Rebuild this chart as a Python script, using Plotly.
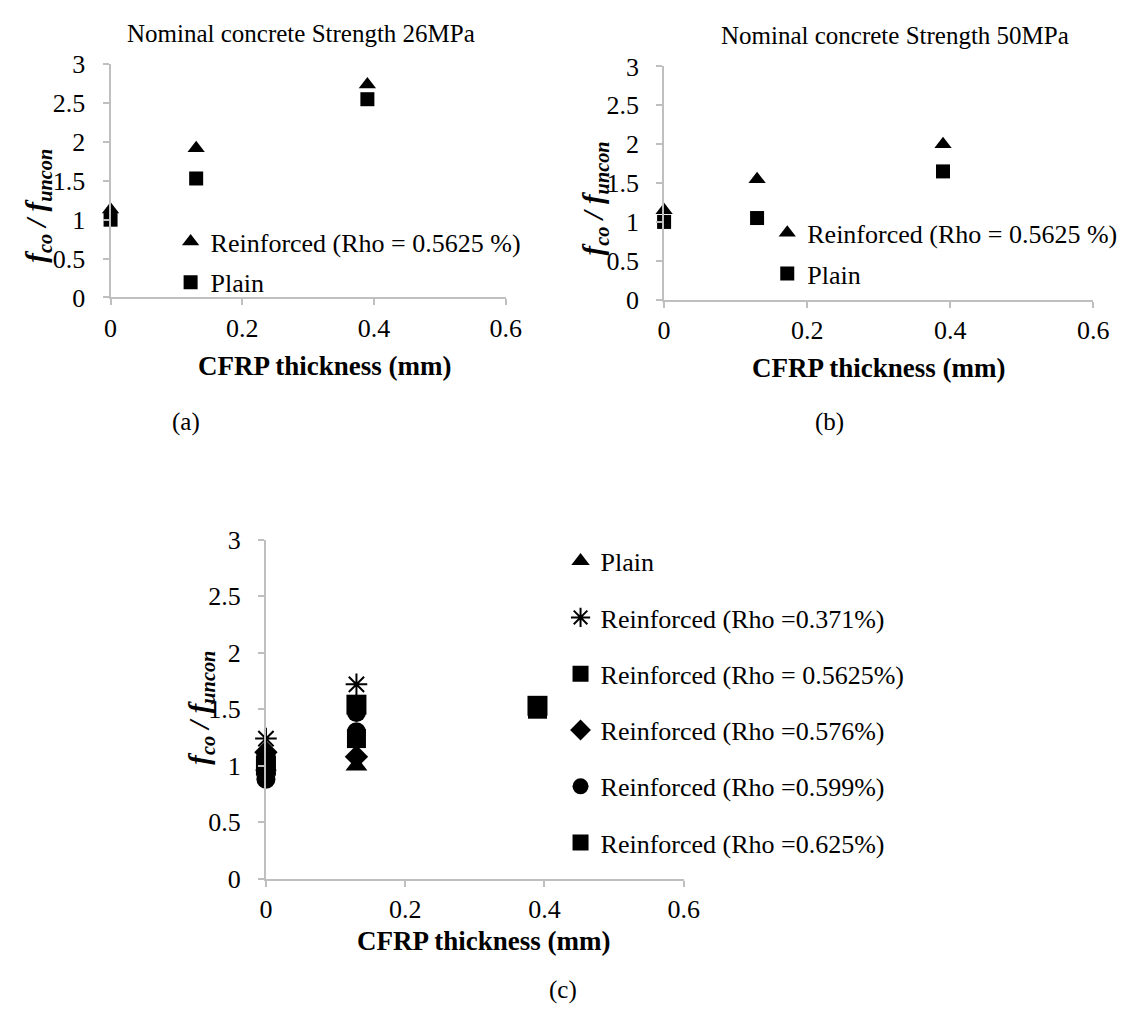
import plotly.graph_objects as go

W, H = 1134, 1022
FONT = "Liberation Serif"

# ---- data ----
thickness = [0, 0.13, 0.39]

# (a) 26 MPa
a_reinforced = [1.13, 1.92, 2.74]
a_plain = [1.0, 1.53, 2.55]

# (b) 50 MPa
b_reinforced = [1.15, 1.55, 2.0]
b_plain = [1.0, 1.05, 1.65]

# (c) various reinforcement ratios
c_plain_x = [0, 0.13]
c_plain_y = [1.0, 1.0]
c_r0371_x = [0, 0.13]
c_r0371_y = [1.24, 1.72]
c_r05625_x = [0, 0.13, 0.39]
c_r05625_y = [1.0, 1.54, 1.53]
c_r0576_x = [0, 0.13]
c_r0576_y = [1.12, 1.08]
c_r0599_x = [0, 0.13, 0.13]
c_r0599_y = [0.88, 1.30, 1.47]
c_r0625_x = [0, 0.13, 0.39]
c_r0625_y = [1.05, 1.24, 1.50]

x_ticks = [0, 0.2, 0.4, 0.6]
x_labels = ["0", "0.2", "0.4", "0.6"]
y_ticks = [0, 0.5, 1, 1.5, 2, 2.5, 3]
y_labels = ["0", "0.5", "1", "1.5", "2", "2.5", "3"]


def px_x(p):
    return p / W


def px_y(p):
    return 1 - p / H


fig = go.Figure()


def add(x, y, name, symbol, size, xa, ya, legend, group, line=None):
    marker = dict(symbol=symbol, size=size, color="black")
    if line:
        marker["line"] = dict(color="black", width=line)
    fig.add_trace(go.Scatter(
        x=x, y=y, mode="markers", name=name, marker=marker,
        xaxis=xa, yaxis=ya, legend=legend, legendgroup=group,
        cliponaxis=False, showlegend=True))


# (a)
add(thickness, a_reinforced, "Reinforced (Rho = 0.5625 %)", "triangle-up", 15, "x", "y", "legend", "a1")
add(thickness, a_plain, "Plain", "square", 14, "x", "y", "legend", "a2")
# (b)
add(thickness, b_reinforced, "Reinforced (Rho = 0.5625 %)", "triangle-up", 15, "x2", "y2", "legend2", "b1")
add(thickness, b_plain, "Plain", "square", 14, "x2", "y2", "legend2", "b2")
# (c)
add(c_plain_x, c_plain_y, "Plain", "triangle-up", 19, "x3", "y3", "legend3", "c1")
add(c_r0371_x, c_r0371_y, "Reinforced (Rho =0.371%)", "asterisk-open", 18, "x3", "y3", "legend3", "c2", line=2)
add(c_r05625_x, c_r05625_y, "Reinforced (Rho = 0.5625%)", "square", 20, "x3", "y3", "legend3", "c3")
add(c_r0576_x, c_r0576_y, "Reinforced (Rho =0.576%)", "diamond", 18, "x3", "y3", "legend3", "c4")
add(c_r0599_x, c_r0599_y, "Reinforced (Rho =0.599%)", "circle", 19, "x3", "y3", "legend3", "c5")
add(c_r0625_x, c_r0625_y, "Reinforced (Rho =0.625%)", "square", 19, "x3", "y3", "legend3", "c6")

tickfont = dict(family=FONT, size=26, color="black")
axis_common = dict(
    showline=True, linecolor="#bfbfbf", linewidth=2,
    ticks="outside", ticklen=6, tickcolor="#bfbfbf", tickwidth=2,
    showgrid=False, zeroline=False, tickfont=tickfont,
)


def xax(domain, anchor):
    return dict(axis_common, domain=domain, anchor=anchor, range=[0, 0.6],
                tickmode="array", tickvals=x_ticks, ticktext=x_labels,
                ticklabelstandoff=0)


def yax(domain, anchor):
    return dict(axis_common, domain=domain, anchor=anchor, range=[0, 3],
                tickmode="array", tickvals=y_ticks, ticktext=y_labels,
                ticklabelstandoff=12)


legfont = dict(family=FONT, size=26, color="black")
fig.update_layout(
    width=W, height=H,
    font=dict(family=FONT, size=26, color="black"),
    margin=dict(l=0, r=0, t=0, b=0),
    paper_bgcolor="white", plot_bgcolor="white",
    xaxis=xax([px_x(105.7), px_x(509)], "y"),
    yaxis=yax([px_y(291.7), px_y(51.7)], "x"),
    xaxis2=xax([px_x(670.7), px_x(1108.7)], "y2"),
    yaxis2=yax([px_y(294), px_y(54)], "x2"),
    xaxis3=xax([px_x(264.3), px_x(690.7)], "y3"),
    yaxis3=yax([px_y(890), px_y(541)], "x3"),
    legend=dict(x=px_x(167), y=px_y(210), xanchor="left", yanchor="top",
                font=legfont, bgcolor="rgba(0,0,0,0)",
                tracegroupgap=4, itemsizing="trace"),
    legend2=dict(x=px_x(776), y=px_y(201), xanchor="left", yanchor="top",
                 font=legfont, bgcolor="rgba(0,0,0,0)",
                 tracegroupgap=4, itemsizing="trace"),
    legend3=dict(x=px_x(565), y=px_y(539), xanchor="left", yanchor="top",
                 font=legfont, bgcolor="rgba(0,0,0,0)",
                 tracegroupgap=19.5, itemsizing="trace"),
)

ytitle = "<b><i>f<sub>co</sub> / f<sub>uncon</sub></i></b>"
xtitle = "<b>CFRP thickness (mm)</b>"
ann = []


def text(x, y, s, size, angle=0):
    ann.append(dict(x=px_x(x), y=px_y(y), xref="paper", yref="paper", text=s,
                    showarrow=False, textangle=angle, xanchor="center", yanchor="middle",
                    font=dict(family=FONT, size=size, color="black")))


text(300, 20, "Nominal concrete Strength 26MPa", 25)
text(906, 22, "Nominal concrete Strength 50MPa", 25)
text(324, 362, xtitle, 27)
text(890, 364, xtitle, 27)
text(486, 954, xtitle, 27)
text(32, 197, ytitle, 29, -90)
text(600, 190, ytitle, 29, -90)
text(198, 714, ytitle, 29, -90)
text(183, 420, "(a)", 25)
text(840, 420, "(b)", 25)
text(568, 1004, "(c)", 25)
fig.update_layout(annotations=ann)

fig.write_html("out.html")
